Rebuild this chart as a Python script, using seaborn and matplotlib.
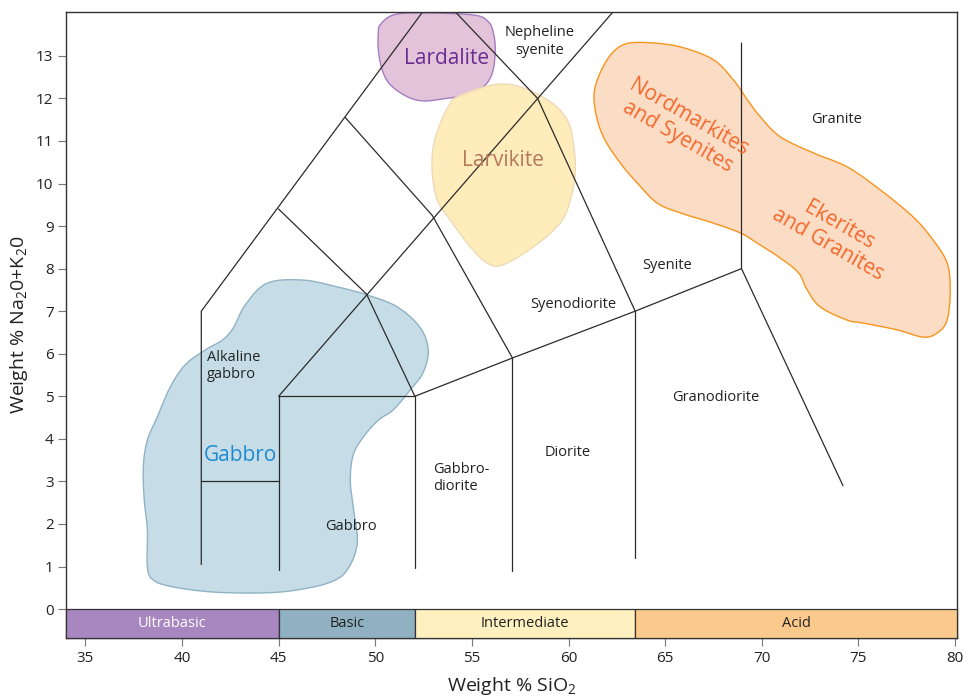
import numpy as np
import pandas as pd
import matplotlib
matplotlib.use("Agg")
import matplotlib.pyplot as plt
import seaborn as sns

# ---- axis ranges and ticks ----
sio2_limits = (34.0, 80.1)
alkali_limits = (-0.68, 14.03)
sio2_ticks = [35, 40, 45, 50, 55, 60, 65, 70, 75, 80]
alkali_ticks = list(range(0, 14))

# ---- classification field boundaries (SiO2 wt%, Na2O+K2O wt%) ----
line_left_edge = [(41.0, 1.05), (41.0, 7.0), (52.45, 14.03)]
line_alk_gabbro = [(45.0, 9.4), (49.55, 7.4), (52.05, 5.0)]
line_syenodiorite = [(48.45, 11.55), (52.95, 9.25), (57.1, 5.9)]
line_neph_syenite = [(54.15, 14.03), (58.4, 12.0), (63.45, 7.0)]
line_alkaline_divide = [(45.0, 5.0), (62.3, 14.03)]
line_gabbro_box = [(45.0, 0.92), (45.0, 5.0), (52.05, 5.0), (52.05, 0.96)]
line_ultrabasic_step = [(41.0, 3.0), (45.0, 3.0)]
line_subalkaline_top = [(52.05, 5.0), (57.1, 5.9), (63.45, 7.0), (68.95, 8.0)]
line_diorite = [(57.1, 5.9), (57.1, 0.9)]
line_granodiorite = [(63.45, 7.0), (63.45, 1.2)]
line_granite = [(68.95, 13.3), (68.95, 8.0), (74.2, 2.9)]

boundaries = [line_left_edge, line_alk_gabbro, line_syenodiorite, line_neph_syenite,
              line_alkaline_divide, line_gabbro_box, line_ultrabasic_step,
              line_subalkaline_top, line_diorite, line_granodiorite, line_granite]

# ---- silica classes along the bottom ----
class_names = ["Ultrabasic", "Basic", "Intermediate", "Acid"]
class_edges = [34.0, 45.0, 52.05, 63.45, 80.1]
class_colors = ["#a886bf", "#8fb1c1", "#fff0c0", "#fcc98c"]
class_text_colors = ["#ffffff", "#222222", "#222222", "#222222"]

# ---- rock field names ----
field_names = ["Nepheline\nsyenite", "Granite", "Syenite", "Syenodiorite",
               "Alkaline\ngabbro", "Granodiorite", "Diorite", "Gabbro-\ndiorite", "Gabbro"]
field_x = [58.5, 73.85, 65.1, 60.25, 41.3, 67.6, 59.95, 53.0, 48.75]
field_y = [13.33, 11.5, 8.08, 7.15, 5.71, 4.98, 3.67, 3.08, 1.95]
field_ha = ["center", "center", "center", "center", "left", "center", "center", "left", "center"]

# ---- Oslo rift rock suites (outlines) ----
gabbro_x = [42.66, 43.28, 44.42, 46.28, 48.04, 49.59, 51.14, 52.33, 52.74, 52.49, 51.81,
            50.93, 50.16, 49.38, 48.86, 48.71, 48.86, 49.07, 48.55, 47.67, 45.97, 44.21,
            41.62, 39.55, 38.52, 38.21, 38.21, 38.05, 38.00, 38.21, 38.72, 39.40, 40.17,
            41.21, 42.09]
gabbro_y = [6.61, 7.15, 7.66, 7.73, 7.57, 7.38, 7.10, 6.61, 6.09, 5.57, 5.15,
            4.68, 4.44, 4.04, 3.62, 3.03, 2.40, 1.55, 0.92, 0.63, 0.45, 0.38,
            0.40, 0.52, 0.68, 0.99, 1.86, 2.56, 3.34, 3.97, 4.51, 5.22, 5.74,
            6.09, 6.32]
lardalite_x = [50.26, 50.93, 52.33, 55.07, 55.85, 56.11, 56.21, 56.06, 55.59, 54.76,
               53.52, 52.49, 51.66, 50.78, 50.36, 50.16, 50.16]
lardalite_y = [13.73, 13.96, 14.01, 13.96, 13.80, 13.54, 13.14, 12.60, 12.27, 12.08,
               11.99, 11.94, 12.04, 12.32, 12.67, 13.14, 13.54]
larvikite_x = [54.24, 56.11, 57.50, 59.06, 59.94, 60.25, 60.35, 60.09, 59.57, 58.18,
               56.62, 55.80, 54.92, 53.88, 53.21, 52.95, 53.00, 53.37, 53.78]
larvikite_y = [12.04, 12.32, 12.27, 11.92, 11.49, 10.95, 10.25, 9.61, 9.07, 8.51,
               8.09, 8.13, 8.51, 9.14, 9.61, 10.25, 10.86, 11.42, 11.80]
nordmarkite_x = [62.83, 64.07, 65.78, 67.49, 68.52, 69.25, 69.92, 70.95, 72.66, 74.42,
                 76.13, 77.84, 78.87, 79.59, 79.75, 79.59, 79.08, 78.35, 77.01, 75.25,
                 74.42, 73.02, 72.35, 71.90, 70.95, 69.76, 68.88, 67.49, 65.78, 64.59,
                 63.56, 62.68, 61.80, 61.38, 61.38, 62.00]
nordmarkite_y = [13.26, 13.31, 13.21, 12.91, 12.44, 11.97, 11.57, 11.10, 10.72, 10.39,
                 9.85, 9.21, 8.67, 8.13, 7.50, 6.79, 6.49, 6.39, 6.56, 6.72,
                 6.79, 7.10, 7.50, 7.90, 8.25, 8.60, 8.84, 9.07, 9.31, 9.54,
                 10.01, 10.48, 11.10, 11.73, 12.27, 12.91]


def closed_spline(xs, ys, n=16):
    """Closed Catmull-Rom curve through the outline points."""
    p = np.column_stack([xs, ys]).astype(float)
    N = len(p)
    t = np.linspace(0, 1, n, endpoint=False)[:, None]
    parts = []
    for i in range(N):
        p0, p1, p2, p3 = p[i - 1], p[i], p[(i + 1) % N], p[(i + 2) % N]
        parts.append(0.5 * (2 * p1 + (-p0 + p2) * t
                            + (2 * p0 - 5 * p1 + 4 * p2 - p3) * t ** 2
                            + (-p0 + 3 * p1 - 3 * p2 + p3) * t ** 3))
    out = np.vstack(parts)
    return out[:, 0], out[:, 1]


sns.set_theme(style="white")
plt.rcParams["font.family"] = ["Open Sans", "DejaVu Sans"]
plt.rcParams["mathtext.fontset"] = "custom"
plt.rcParams["mathtext.rm"] = "Open Sans"
plt.rcParams["mathtext.it"] = "Open Sans:italic"
plt.rcParams["mathtext.bf"] = "Open Sans:bold"

fig = plt.figure(figsize=(9.63, 6.99), dpi=100)
ax = fig.add_axes([66 / 963, 1 - 638 / 699, (957 - 66) / 963, (638 - 12) / 699])

# rock suite outlines
suites = [
    (gabbro_x, gabbro_y, "#c6dde8", "#8fb3c4", 1.0),
    (lardalite_x, lardalite_y, "#e2c3d9", "#a47cc2", 1.0),
    (larvikite_x, larvikite_y, "#feebb8", "#eed8b4", 0.95),
    (nordmarkite_x, nordmarkite_y, "#fbdcc4", "#f7941d", 1.0),
]
for sx, sy, fc, ec, a in suites:
    cx, cy = closed_spline(sx, sy)
    ax.fill(cx, cy, facecolor=fc, edgecolor=ec, lw=1.0, alpha=a, zorder=1)

# field boundaries
rows = []
for k, seg in enumerate(boundaries):
    for j, (bx, by) in enumerate(seg):
        rows.append({"segment": k, "order": j, "sio2": bx, "alkali": by})
bdf = pd.DataFrame(rows)
sns.lineplot(data=bdf, x="sio2", y="alkali", units="segment", estimator=None,
             sort=False, color="#2b2b2b", lw=0.9, ax=ax, zorder=2, legend=False)

# silica classes strip
for name, x0, x1, fc, tc in zip(class_names, class_edges[:-1], class_edges[1:],
                                class_colors, class_text_colors):
    ax.add_patch(plt.Rectangle((x0, alkali_limits[0]), x1 - x0, 0 - alkali_limits[0],
                               facecolor=fc, edgecolor="#333333", lw=0.9, zorder=3,
                               clip_on=False))
    ax.text((x0 + x1) / 2, alkali_limits[0] / 2, name, ha="center", va="center",
            fontsize=10.5, color=tc, zorder=4)

# field labels
for name, fx, fy, ha in zip(field_names, field_x, field_y, field_ha):
    ax.text(fx, fy, name, ha=ha, va="center", fontsize=10.5, color="#222222",
            linespacing=1.25, zorder=4)

# suite labels
ax.text(53.68, 12.93, "Lardalite", ha="center", va="center", fontsize=15,
        color="#6a2c91", zorder=4)
ax.text(56.62, 10.55, "Larvikite", ha="center", va="center", fontsize=15,
        color="#b5795a", zorder=4)
ax.text(43.0, 3.62, "Gabbro", ha="center", va="center", fontsize=15,
        color="#1d8bd1", zorder=4)
ax.text(65.94, 11.33, "Nordmarkites\nand Syenites", ha="center", va="center",
        fontsize=15, color="#f26a2e", rotation=-30, rotation_mode="anchor",
        linespacing=1.05, zorder=4)
ax.text(73.7, 8.79, "Ekerites\nand Granites", ha="center", va="center",
        fontsize=15, color="#f26a2e", rotation=-30, rotation_mode="anchor",
        linespacing=1.05, zorder=4)

ax.set_xlim(*sio2_limits)
ax.set_ylim(*alkali_limits)
ax.set_xticks(sio2_ticks)
ax.set_yticks(alkali_ticks)
ax.tick_params(axis="both", direction="out", length=6, width=0.8, color="#777777",
               labelsize=11, labelcolor="#222222", pad=3)
ax.tick_params(axis="both", bottom=True, left=True)
for sp in ax.spines.values():
    sp.set_color("#333333")
    sp.set_linewidth(1.0)

ax.set_xlabel("Weight % SiO$_2$", fontsize=14, color="#222222", labelpad=7)
ax.set_ylabel("Weight % Na$_2$0+K$_2$0", fontsize=14, color="#222222", labelpad=4)

fig.savefig("out.png", dpi=100)
